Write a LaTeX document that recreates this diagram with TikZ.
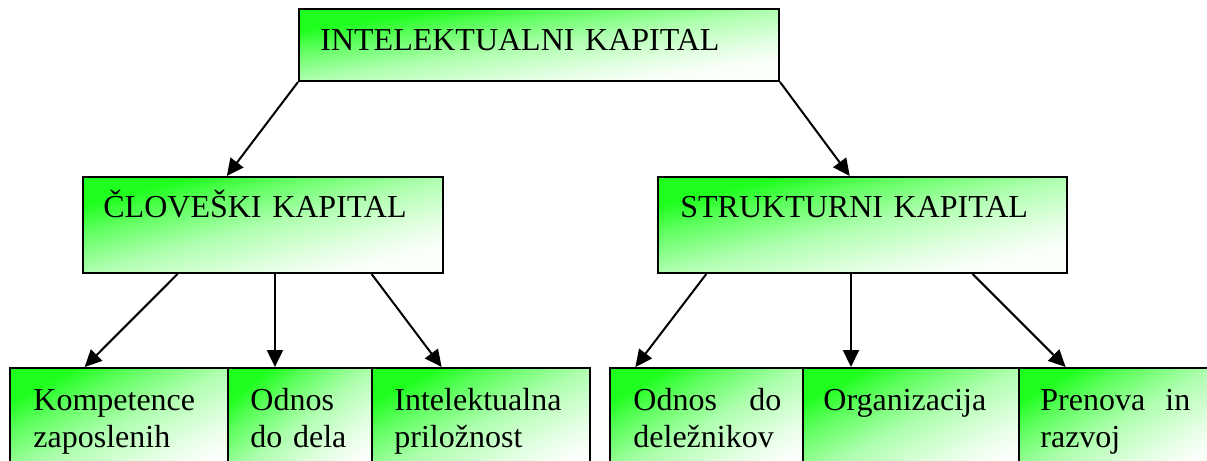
\documentclass[tikz,border=0pt]{standalone}
\usepackage{fontspec}
\setmainfont{Liberation Serif}
\usetikzlibrary{arrows.meta,calc,fit}
\definecolor{gstart}{RGB}{30,255,30}
\definecolor{gtwo}{RGB}{95,255,95}
\definecolor{gthree}{RGB}{175,255,175}
\definecolor{gfour}{RGB}{225,255,225}
\definecolor{gend}{RGB}{250,255,250}
% diagonal green-to-white fill, corner to corner
\pgfdeclarehorizontalshading{kapshade}{100bp}{color(0bp)=(gstart); color(25bp)=(gstart);
  color(35bp)=(gtwo); color(50bp)=(gthree); color(65bp)=(gfour); color(75bp)=(gend);
  color(100bp)=(gend)}
\tikzset{
  box/.style={draw=black, line width=1pt, inner sep=0pt},
  lbl/.style={anchor=base west, inner sep=0pt, text width=200pt,
    font=\fontsize{16}{18.5}\selectfont, align=left},
  arr/.style={line width=1pt, -{Triangle[length=8.5pt,width=8pt]}},
}
% \kapbox{name}{x1}{y1}{x2}{y2}: shaded box stretched over the given corners
\newcommand\kapbox[5]{%
  \begin{scope}[transform canvas={shift={(#2,#3)}, xscale=#4-#2, yscale=#5-#3}]
    \shade[shading=kapshade, shading angle=-45] (0,0) rectangle (1,1);
  \end{scope}
  \node[box, fit={(#2,#3) (#4,#5)}] (#1) {};
}
\begin{document}
\begin{tikzpicture}[x=0.5pt,y=-0.5pt]
\useasboundingbox (0,0) rectangle (1207,461);
\clip (0,0) rectangle (1207,461);

% top level
\kapbox{ik}{299}{9}{779}{81}
\node[lbl] (ik-t) at (320,50) {INTELEKTUALNI KAPITAL};

% second level
\kapbox{hk}{83}{177}{443}{273}
\node[lbl] (hk-t) at (103,217) {ČLOVEŠKI KAPITAL};
\kapbox{sk}{658}{177}{1067}{273}
\node[lbl] (sk-t) at (680,217) {STRUKTURNI KAPITAL};

% third level, human capital
\kapbox{kz}{10}{368}{228}{480}
\node[lbl, text width=90pt] (kz-t) at (33,410) {Kompetence\\zaposlenih};
\kapbox{odd}{228}{368}{372}{480}
\node[lbl, text width=60pt] (odd-t) at (250,410) {Odnos\\do dela};
\kapbox{ip}{372}{368}{590}{480}
\node[lbl, text width=90pt] (ip-t) at (394,410) {Intelektualna\\priložnost};

% third level, structural capital
\kapbox{odl}{610}{368}{803}{480}
\node[lbl, text width=74pt] (odl-t) at (633,410) {Odnos\hfill do\\deležnikov};
\kapbox{org}{803}{368}{1019}{480}
\node[lbl, text width=90pt] (org-t) at (823,410) {Organizacija};
\kapbox{pr}{1019}{368}{1212}{480}
\node[lbl, text width=75pt] (pr-t) at (1040,410) {Prenova\hfill in\\razvoj};

% connectors
\draw[arr] (ik.south west) -- ($(hk.north west)!0.4!(hk.north east)$);
\draw[arr] (ik.south east) -- ($(sk.north west)!0.469!(sk.north east)$);

\draw[arr] ($(hk.south west)!0.264!(hk.south east)$) -- ($(kz.north west)!0.344!(kz.north east)$);
\draw[arr] ($(hk.south west)!0.533!(hk.south east)$) coordinate (hm) -- (hm |- odd.north);
\draw[arr] ($(hk.south west)!0.8!(hk.south east)$) -- ($(ip.north west)!0.321!(ip.north east)$);

\draw[arr] ($(sk.south west)!0.12!(sk.south east)$) -- ($(odl.north west)!0.135!(odl.north east)$);
\draw[arr] ($(sk.south west)!0.472!(sk.south east)$) coordinate (sm) -- (sm |- org.north);
\draw[arr] ($(sk.south west)!0.768!(sk.south east)$) -- ($(pr.north west)!0.244!(pr.north east)$);
\end{tikzpicture}
\end{document}
